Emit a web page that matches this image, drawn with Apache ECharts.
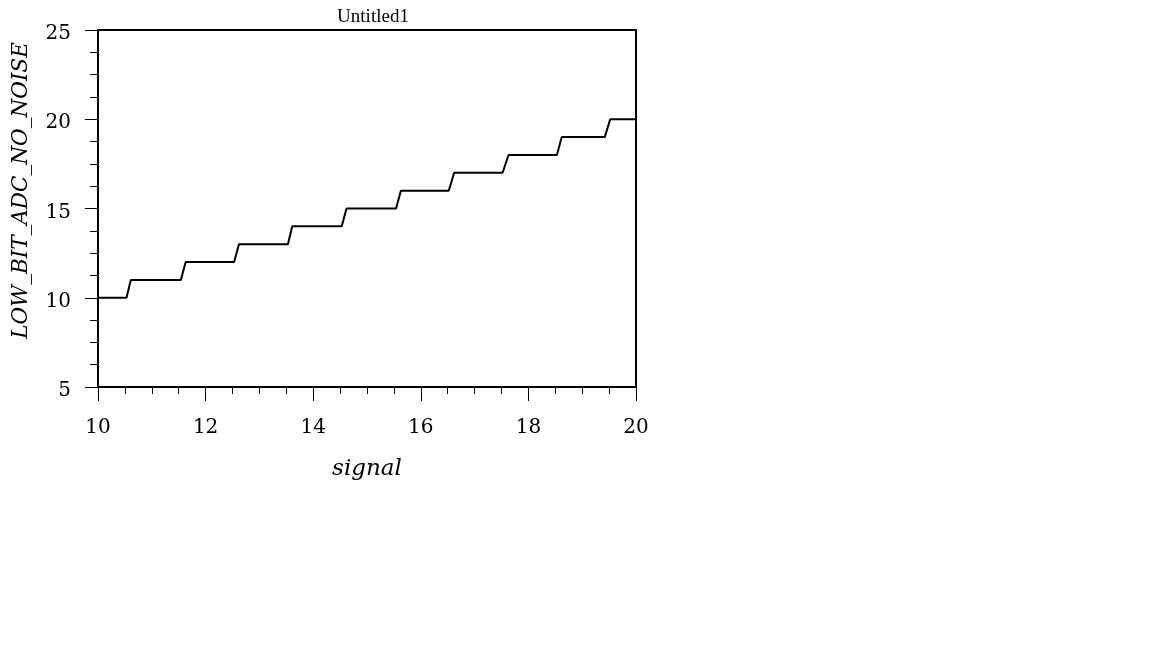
<!DOCTYPE html>
<html>
<head>
<meta charset="utf-8">
<script src="https://cdn.jsdelivr.net/npm/echarts@6/dist/echarts.min.js"></script>
<style>html,body{margin:0;padding:0;background:#fff;}#c{width:1152px;height:648px;}</style>
</head>
<body>
<div id="c"></div>
<script>
// Data
const signalX = [10, 10.53, 10.61, 11.54, 11.63, 12.53, 12.62, 13.53, 13.61, 14.53, 14.62, 15.54, 15.63, 16.52, 16.62, 17.52, 17.63, 18.53, 18.62, 19.42, 19.52, 20];
const adcY    = [10, 10,    11,    11,    12,    12,    13,    13,    14,    14,    15,    15,    16,    16,    17,    17,    18,    18,    19,    19,    20,    20];
const xTicks = [10, 12, 14, 16, 18, 20];
const yTicks = [5, 10, 15, 20, 25];
const titleText = 'Untitled1';
const xName = 'signal';
const yName = 'LOW_BIT_ADC_NO_NOISE';

const pts = signalX.map((x, i) => [x, adcY[i]]);
const serif = 'Liberation Serif';
const chart = echarts.init(document.getElementById('c'));
chart.setOption({
  animation: false,
  backgroundColor: '#fff',
  title: { text: titleText, left: 368, top: 3, textAlign: 'center',
    textStyle: { fontFamily: serif, fontSize: 19, fontWeight: 'normal', color: '#000' } },
  grid: { left: 98, right: 516, top: 30, bottom: 261, containLabel: false },
  xAxis: [{
    type: 'value', min: xTicks[0], max: xTicks[xTicks.length - 1], interval: 2,
    name: xName, nameLocation: 'middle', nameGap: 71,
    nameTextStyle: { fontFamily: 'DejaVu Serif', fontStyle: 'italic', fontSize: 23, color: '#000' },
    axisLine: { show: true, lineStyle: { color: '#000', width: 2 } },
    axisTick: { show: true, inside: false, length: 14, lineStyle: { color: '#000', width: 1 } },
    minorTick: { show: true, splitNumber: 4, length: 7, lineStyle: { color: '#000', width: 1 } },
    axisLabel: { margin: 31, fontFamily: 'DejaVu Serif', fontSize: 20, color: '#000' },
    splitLine: { show: false }
  }, {
    type: 'value', position: 'top', min: 10, max: 20,
    axisLine: { show: true, onZero: false, lineStyle: { color: '#000', width: 2 } },
    axisTick: { show: false }, axisLabel: { show: false }, splitLine: { show: false }
  }],
  yAxis: [{
    type: 'value', min: yTicks[0], max: yTicks[yTicks.length - 1], interval: 5,
    name: yName, nameLocation: 'middle', nameGap: 66,
    nameTextStyle: { fontFamily: 'DejaVu Serif', fontStyle: 'italic', fontSize: 21.5, color: '#000', padding: [0, 0, 0, 36] },
    axisLine: { show: true, onZero: false, lineStyle: { color: '#000', width: 2 } },
    axisTick: { show: true, inside: false, length: 13, lineStyle: { color: '#000', width: 1 } },
    minorTick: { show: true, splitNumber: 4, length: 8, lineStyle: { color: '#000', width: 1 } },
    axisLabel: { margin: 27, verticalAlign: 'top', lineHeight: 8, fontFamily: 'DejaVu Serif', fontSize: 20, color: '#000' },
    splitLine: { show: false }
  }, {
    type: 'value', position: 'right', min: 5, max: 25,
    axisLine: { show: true, onZero: false, lineStyle: { color: '#000', width: 2 } },
    axisTick: { show: false }, axisLabel: { show: false }, splitLine: { show: false }
  }],
  series: [{
    type: 'line', data: pts, showSymbol: false, symbol: 'none',
    lineStyle: { color: '#000', width: 2 }, clip: true
  }]
});
</script>
</body>
</html>
